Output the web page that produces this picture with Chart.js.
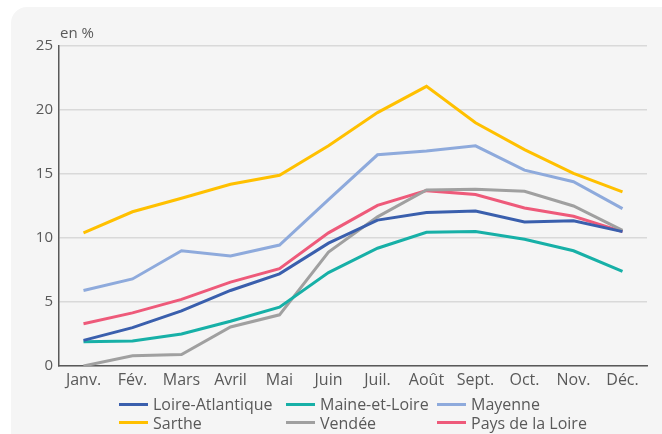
<!DOCTYPE html>
<html>
<head>
<meta charset="utf-8">
<script src="https://cdn.jsdelivr.net/npm/chart.js@4"></script>
<style>
    html, body { margin: 0; padding: 0; background: #ffffff; }
    body { width: 662px; height: 434px; position: relative; overflow: hidden; font-family: 'Open Sans', sans-serif; }
    .panel { position: absolute; left: 11px; top: 7px; width: 670px; height: 450px; background: #f5f5f5; border-radius: 16px; }
    .wrap { position: absolute; left: 0; top: 0; width: 662px; height: 434px; }
    #legend { position: absolute; left: 119px; top: 395px; display: grid; grid-template-columns: 167px 151px 160px; row-gap: 0; }
    .item { display: flex; align-items: center; height: 18.5px; font-size: 16px; color: #595959; white-space: nowrap; }
    .swatch { width: 29px; height: 3px; margin-right: 5px; }
</style>
</head>
<body>
<div class="panel"></div>
<div class="wrap"><canvas id="chart" width="662" height="434"></canvas></div>
<div id="legend"></div>
<script>
const months = ['Janv.', 'Fév.', 'Mars', 'Avril', 'Mai', 'Juin', 'Juil.', 'Août', 'Sept.', 'Oct.', 'Nov.', 'Déc.'];

const loireAtlantique = [2.0, 3.0, 4.3, 5.9, 7.2, 9.6, 11.4, 12.0, 12.1, 11.25, 11.35, 10.5];
const maineEtLoire   = [1.9, 1.95, 2.5, 3.5, 4.6, 7.3, 9.2, 10.45, 10.5, 9.9, 9.0, 7.4];
const mayenne        = [5.9, 6.8, 9.0, 8.6, 9.45, 13.0, 16.5, 16.8, 17.2, 15.3, 14.4, 12.3];
const sarthe         = [10.4, 12.05, 13.1, 14.2, 14.9, 17.2, 19.8, 21.85, 19.0, 16.9, 15.05, 13.6];
const vendee         = [0.0, 0.8, 0.9, 3.05, 4.0, 8.9, 11.65, 13.75, 13.8, 13.65, 12.5, 10.6];
const paysDeLaLoire  = [3.3, 4.15, 5.2, 6.55, 7.6, 10.4, 12.55, 13.7, 13.4, 12.35, 11.7, 10.5];

const yTicks = [0, 5, 10, 15, 20, 25];

const series = [
    { label: 'Loire-Atlantique', data: loireAtlantique, color: '#3a5fad' },
    { label: 'Maine-et-Loire', data: maineEtLoire, color: '#17b0a7' },
    { label: 'Mayenne', data: mayenne, color: '#8eaadc' },
    { label: 'Sarthe', data: sarthe, color: '#ffc000' },
    { label: 'Vendée', data: vendee, color: '#a0a0a0' },
    { label: 'Pays de la Loire', data: paysDeLaLoire, color: '#ee5a7a' }
];

// draw order: back to front like the original
const drawOrder = ['Sarthe', 'Mayenne', 'Pays de la Loire', 'Vendée', 'Maine-et-Loire', 'Loire-Atlantique'];

const unitTitle = {
    id: 'unitTitle',
    afterDraw(chart) {
        const { ctx, chartArea } = chart;
        ctx.save();
        ctx.font = '15px "Open Sans"';
        ctx.fillStyle = '#595959';
        ctx.textAlign = 'left';
        ctx.textBaseline = 'alphabetic';
        ctx.fillText('en %', chartArea.left + 1, chartArea.top - 8);
        ctx.restore();
    }
};

const ctx = document.getElementById('chart').getContext('2d');
const chart = new Chart(ctx, {
    type: 'line',
    data: {
        labels: months,
        datasets: series.map(s => ({
            label: s.label,
            data: s.data,
            borderColor: s.color,
            backgroundColor: s.color,
            borderWidth: 3,
            pointRadius: 0,
            tension: 0,
            order: drawOrder.indexOf(s.label) * -1
        }))
    },
    options: {
        responsive: false,
        animation: false,
        layout: { padding: { left: 11, right: 15, top: 46, bottom: 39 } },
        scales: {
            x: {
                offset: true,
                grid: { display: false, drawTicks: false },
                border: { color: '#595959', width: 1.5 },
                ticks: { color: '#595959', font: { family: 'Open Sans', size: 16 }, padding: 5, maxRotation: 0 },
                afterFit: scale => { scale.height = 29; }
            },
            y: {
                min: 0,
                max: 25,
                afterBuildTicks: scale => { scale.ticks = yTicks.map(v => ({ value: v })); },
                grid: { color: '#d9d9d9', lineWidth: 1.5, drawTicks: false },
                border: { color: '#595959', width: 1.5 },
                ticks: { color: '#595959', font: { family: 'Open Sans', size: 15 }, padding: 6 },
                afterFit: scale => { scale.width = 48; }
            }
        },
        plugins: {
            legend: { display: false },
            tooltip: { enabled: false }
        }
    },
    plugins: [unitTitle]
});

const legend = document.getElementById('legend');
series.forEach(s => {
    const item = document.createElement('div');
    item.className = 'item';
    item.innerHTML = `<span class="swatch" style="background:${s.color}"></span>${s.label}`;
    legend.appendChild(item);
});
</script>
</body>
</html>
